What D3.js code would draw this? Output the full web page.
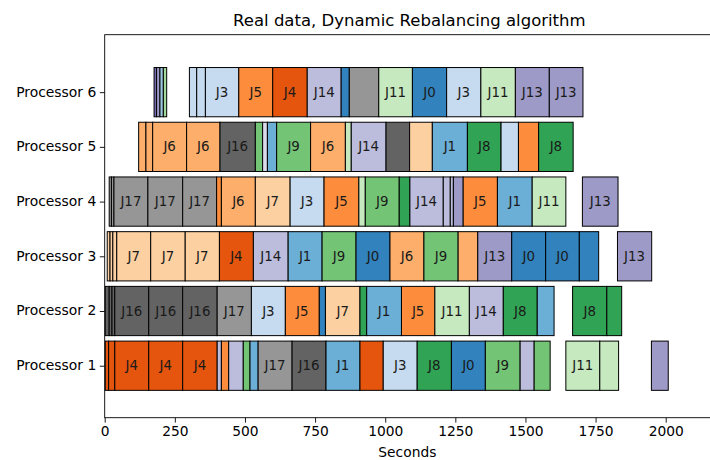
<!DOCTYPE html>
<html>
<head>
<meta charset="utf-8">
<script src="https://cdn.jsdelivr.net/npm/d3@7"></script>
<style>
  html, body { margin: 0; padding: 0; background: #fff; }
  svg { display: block; font-family: "DejaVu Sans", sans-serif; }
</style>
</head>
<body>
<svg id="chart" width="710" height="460"></svg>
<script>
// Processor rows, bottom to top
const processors = ["Processor 1", "Processor 2", "Processor 3", "Processor 4", "Processor 5", "Processor 6"];

// Task slices per processor: [job id, start (s), end (s)]
const proc1Tasks = [
  [4, 2, 14], [4, 14, 36], [4, 36, 157], [4, 157, 278], [4, 278, 401],
  [14, 401, 416], [5, 416, 442], [14, 442, 494], [9, 494, 518], [1, 518, 547],
  [17, 547, 668], [16, 668, 789], [1, 789, 910], [4, 910, 993], [3, 993, 1114],
  [8, 1114, 1236], [0, 1236, 1357], [9, 1357, 1481], [14, 1481, 1531], [9, 1531, 1588],
  [11, 1644, 1765], [11, 1765, 1832], [13, 1949, 2009]
];
const proc2Tasks = [
  [16, 2, 16], [16, 16, 26], [16, 26, 36], [16, 36, 157], [16, 157, 278],
  [16, 278, 401], [17, 401, 523], [3, 523, 644], [5, 644, 765], [0, 765, 787],
  [7, 787, 910], [8, 910, 934], [1, 934, 1058], [5, 1058, 1177], [11, 1177, 1300],
  [14, 1300, 1421], [8, 1421, 1542], [1, 1542, 1602], [8, 1668, 1790], [8, 1790, 1843]
];
const proc3Tasks = [
  [7, 9, 19], [7, 19, 29], [7, 29, 43], [7, 43, 164], [7, 164, 287],
  [7, 287, 409], [4, 409, 530], [14, 530, 654], [1, 654, 775], [9, 775, 896],
  [0, 896, 1017], [6, 1017, 1138], [9, 1138, 1260], [6, 1260, 1330], [13, 1330, 1451],
  [0, 1451, 1572], [0, 1572, 1692], [0, 1692, 1761], [13, 1828, 1950]
];
const proc4Tasks = [
  [17, 16, 24], [17, 24, 33], [17, 33, 154], [17, 154, 278], [17, 278, 399],
  [5, 399, 416], [6, 416, 537], [7, 537, 661], [3, 661, 782], [5, 782, 906],
  [11, 906, 929], [9, 929, 1050], [8, 1050, 1088], [14, 1088, 1207], [14, 1207, 1232],
  [14, 1232, 1243], [13, 1243, 1278], [5, 1278, 1400], [1, 1400, 1524], [11, 1524, 1644],
  [13, 1703, 1830]
];
const proc5Tasks = [
  [6, 121, 147], [6, 147, 171], [6, 171, 292], [6, 292, 411], [16, 411, 537],
  [9, 537, 563], [15, 563, 580], [1, 580, 613], [9, 613, 734], [6, 734, 858],
  [11, 858, 879], [14, 879, 1003], [16, 1003, 1087], [7, 1087, 1168], [1, 1168, 1293],
  [8, 1293, 1413], [3, 1413, 1475], [5, 1475, 1547], [8, 1547, 1670]
];
const proc6Tasks = [
  [12, 176, 185], [13, 185, 197], [2, 197, 209], [10, 209, 221],
  [3, 302, 328], [3, 328, 359], [3, 359, 478], [5, 478, 599], [4, 599, 722],
  [14, 722, 843], [0, 843, 872], [17, 872, 977], [11, 977, 1097], [0, 1097, 1219],
  [3, 1219, 1341], [11, 1341, 1464], [13, 1464, 1585], [13, 1585, 1705]
];
const tasksByProcessor = [proc1Tasks, proc2Tasks, proc3Tasks, proc4Tasks, proc5Tasks, proc6Tasks];

const xTicks = [0, 250, 500, 750, 1000, 1250, 1500, 1750, 2000];
const titleText = "Real data, Dynamic Rebalancing algorithm";
const xLabelText = "Seconds";

// Job colours follow the 20-step tab20c cycle
const jobColors = [
  "#3182bd", "#6baed6", "#9ecae1", "#c6dbef",
  "#e6550d", "#fd8d3c", "#fdae6b", "#fdd0a2",
  "#31a354", "#74c476", "#a1d99b", "#c7e9c0",
  "#756bb1", "#9e9ac8", "#bcbddc", "#dadaeb",
  "#636363", "#969696", "#bdbdbd", "#d9d9d9"
];
const labelMinDuration = 110;

const svg = d3.select("#chart");
const plot = { left: 104.7, right: 712, top: 34.7, bottom: 417.7 };

const x = d3.scaleLinear().domain([0, 2165]).range([plot.left, plot.right]);
const y = d3.scaleLinear().domain([0.05, 7.05]).range([plot.bottom, plot.top]);
const rowStep = y(0) - y(1);
const barH = rowStep * 0.9;

const flat = [];
tasksByProcessor.forEach((tasks, pi) => {
  tasks.forEach(([job, s, e]) => flat.push({ row: pi + 1, job, s, e }));
});

const bars = svg.append("g");
bars.selectAll("rect")
  .data(flat)
  .join("rect")
  .attr("x", d => x(d.s))
  .attr("width", d => x(d.e) - x(d.s))
  .attr("y", d => y(d.row) - barH / 2)
  .attr("height", barH)
  .attr("fill", d => jobColors[d.job % 20])
  .attr("stroke", "#000")
  .attr("stroke-width", 1);

bars.selectAll("text")
  .data(flat.filter(d => d.e - d.s > labelMinDuration))
  .join("text")
  .attr("x", d => (x(d.s) + x(d.e)) / 2)
  .attr("y", d => y(d.row) + 4.5)
  .attr("text-anchor", "middle")
  .attr("font-size", "13.4px")
  .attr("fill", "#1a1a1a")
  .text(d => "J" + d.job);

// Axes
const xAxis = d3.axisBottom(x).tickValues(xTicks).tickSize(4.9).tickPadding(3.5).tickFormat(d3.format("d"));
const gx = svg.append("g").attr("transform", `translate(0,${plot.bottom})`).call(xAxis);
gx.select(".domain").remove();
gx.selectAll("text").attr("font-size", "13.8px").attr("font-family", "DejaVu Sans").attr("fill", "#000");
gx.selectAll("line").attr("stroke", "#000").attr("stroke-width", 0.9);

const yAxis = d3.axisLeft(y).tickValues([1, 2, 3, 4, 5, 6]).tickSize(4.9).tickPadding(3.5)
  .tickFormat(d => processors[d - 1]);
const gy = svg.append("g").attr("transform", `translate(${plot.left},0)`).call(yAxis);
gy.select(".domain").remove();
gy.selectAll("text").attr("font-size", "13.9px").attr("font-family", "DejaVu Sans").attr("fill", "#000")
  .attr("dy", "0.28em");
gy.selectAll("line").attr("stroke", "#000").attr("stroke-width", 0.9);

// Frame
svg.append("rect")
  .attr("x", plot.left).attr("y", plot.top)
  .attr("width", plot.right - plot.left).attr("height", plot.bottom - plot.top)
  .attr("fill", "none").attr("stroke", "#000").attr("stroke-width", 0.9);

svg.append("text")
  .attr("x", (plot.left + 710) / 2 + 2).attr("y", 26)
  .attr("text-anchor", "middle").attr("font-size", "16.5px").attr("fill", "#000")
  .text(titleText);

svg.append("text")
  .attr("x", (plot.left + 710) / 2).attr("y", 457)
  .attr("text-anchor", "middle").attr("font-size", "13.8px").attr("fill", "#000")
  .text(xLabelText);
</script>
</body>
</html>
